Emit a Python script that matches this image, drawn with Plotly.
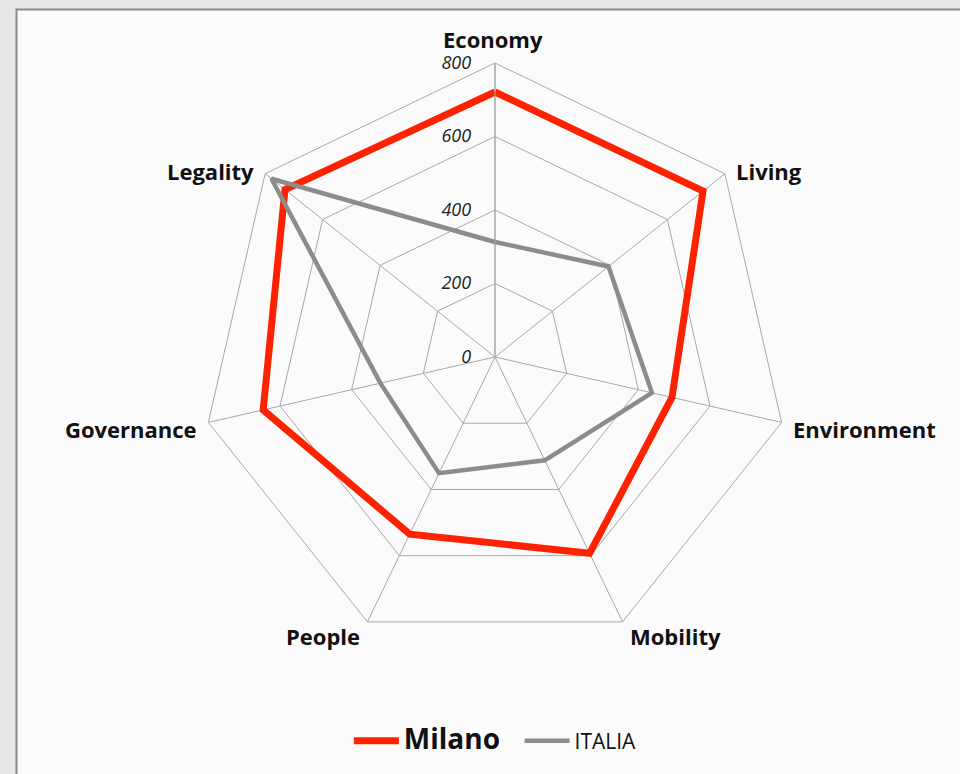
import math
import plotly.graph_objects as go

# Smart-city index by dimension
categories = ["Economy", "Living", "Environment", "Mobility", "People", "Governance", "Legality"]
milano = [721, 724, 494, 593, 535, 647, 731]
italia = [313, 395, 438, 312, 351, 320, 778]
radial_ticks = [0, 200, 400, 600, 800]

W, H = 960, 774
cx, cy, R = 495, 357, 294  # chart centre and outer radius in pixels


def closed(values):
    return values + values[:1]


theta = closed(categories)

fig = go.Figure()
fig.add_trace(go.Scatterpolar(
    r=closed(milano), theta=theta, mode="lines", name="Milano",
    line=dict(color="#ff2200", width=7),
))
fig.add_trace(go.Scatterpolar(
    r=closed(italia), theta=theta, mode="lines", name="ITALIA",
    line=dict(color="#8c8c8c", width=4.5),
))

# category labels placed just outside each outer vertex
annotations = []
n = len(categories)
for i, name in enumerate(categories):
    a = math.radians(i * 360 / n)
    s, c = math.sin(a), math.cos(a)
    vx, vy = cx + R * s, cy - R * c
    if abs(s) < 0.1:
        xa, dx, dy = "center", -2, -24
    else:
        xa = "left" if s > 0 else "right"
        gap = 5 if c < -0.5 else 9
        dx = gap * (1 if s > 0 else -1)
        dy = 4 - 11 * c
    annotations.append(dict(
        text=f"<b>{name}</b>", xref="paper", yref="paper",
        x=(vx + dx) / W, y=1 - (vy + dy) / H,
        xanchor=xa, yanchor="middle", showarrow=False,
        font=dict(family="Open Sans, sans-serif", size=22, color="#111111"),
    ))

grid = "#a8a8a8"
fig.update_layout(
    width=W, height=H,
    margin=dict(l=0, r=0, t=0, b=0),
    paper_bgcolor="#e8e8e8",
    plot_bgcolor="rgba(0,0,0,0)",
    font=dict(family="Open Sans, sans-serif", color="#111111"),
    annotations=annotations,
    shapes=[dict(
        type="rect", xref="paper", yref="paper", layer="below",
        x0=16.5 / W, x1=1.02, y0=-0.02, y1=(H - 9.5) / H,
        fillcolor="#fbfbfb", line=dict(color="#8a8a8a", width=2),
    )],
    polar=dict(
        domain=dict(x=[(cx - R) / W, (cx + R) / W],
                    y=[(H - cy - R) / H, (H - cy + R) / H]),
        bgcolor="rgba(0,0,0,0)",
        gridshape="linear",
        angularaxis=dict(
            direction="clockwise", rotation=90,
            showline=True, linecolor=grid, linewidth=1,
            gridcolor=grid, gridwidth=1,
            ticks="", showticklabels=False,
        ),
        radialaxis=dict(
            range=[0, 800], tickvals=radial_ticks,
            angle=90, side="counterclockwise", tickangle=90,
            showline=True, linecolor=grid, linewidth=1,
            gridcolor=grid, gridwidth=1,
            ticks="outside", ticklen=17, tickcolor="rgba(0,0,0,0)",
            tickfont=dict(family="Open Sans, sans-serif", size=18, color="#222222", style="italic"),
        ),
    ),
    showlegend=True,
    legend=dict(
        orientation="h", xanchor="center", x=0.516, yanchor="middle", y=(H - 741) / H,
        bgcolor="rgba(0,0,0,0)", itemwidth=45,
        font=dict(family="Open Sans, sans-serif", size=21, color="#111111"),
    ),
)
fig.data[0].name = "<b><span style='font-size:28px'>Milano&nbsp;&nbsp;</span></b>"

fig.write_html("out.html")
